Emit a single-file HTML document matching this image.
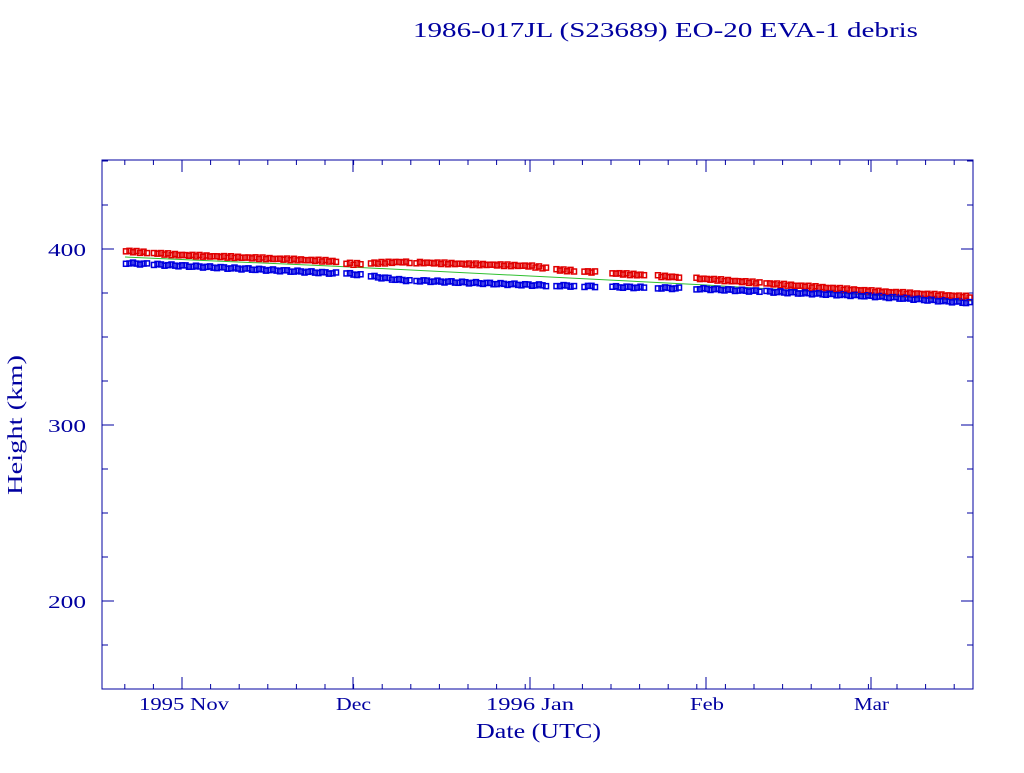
<!DOCTYPE html>
<html><head><meta charset="utf-8"><style>
body{margin:0;background:#fff;}
svg text{font-family:"Liberation Serif",serif;fill:#0000a0;}
</style></head><body>
<svg id="s" width="1024" height="768" xmlns="http://www.w3.org/2000/svg">
<rect width="1024" height="768" fill="#fff"/>
<text x="413" y="37" font-size="21" textLength="505" lengthAdjust="spacingAndGlyphs">1986-017JL (S23689) EO-20 EVA-1 debris</text>
<rect x="102" y="160" width="871" height="529" fill="none" stroke="#0000a0" stroke-width="1"/>
<g id="ticks" stroke="#0000a0" stroke-width="1"></g>
<g font-size="18">
<text x="48" y="256" textLength="38" lengthAdjust="spacingAndGlyphs">400</text>
<text x="48" y="432" textLength="38" lengthAdjust="spacingAndGlyphs">300</text>
<text x="48" y="608" textLength="38" lengthAdjust="spacingAndGlyphs">200</text>
<text x="139" y="710" textLength="90" lengthAdjust="spacingAndGlyphs">1995 Nov</text>
<text x="336" y="710" textLength="35" lengthAdjust="spacingAndGlyphs">Dec</text>
<text x="486" y="710" textLength="88" lengthAdjust="spacingAndGlyphs">1996 Jan</text>
<text x="690" y="710" textLength="34" lengthAdjust="spacingAndGlyphs">Feb</text>
<text x="854" y="710" textLength="35" lengthAdjust="spacingAndGlyphs">Mar</text>
</g>
<text x="476" y="738" font-size="21" textLength="125" lengthAdjust="spacingAndGlyphs">Date (UTC)</text>
<text transform="translate(22,495) rotate(-90)" font-size="21" textLength="140" lengthAdjust="spacingAndGlyphs">Height (km)</text>
<polyline points="125,257 330,266 530,276 706,285 870,295 973,301" fill="none" stroke="#30c030" stroke-width="1"/>
<g id="pts" fill="none" stroke-width="1.5"></g>
</svg>
<script>
var NS="http://www.w3.org/2000/svg",t=document.getElementById("ticks"),p=document.getElementById("pts");
function ln(x1,y1,x2,y2){var l=document.createElementNS(NS,"line");l.setAttribute("x1",x1);l.setAttribute("y1",y1);l.setAttribute("x2",x2);l.setAttribute("y2",y2);t.appendChild(l);}
for(var v=150;v<=450;v+=25){var y=689-(v-150)*1.76;var L=(v%100==0)?12:6;ln(102,y,102+L,y);ln(973,y,973-L,y);}
var majors=[182,353,530,706,871];
for(var x=182-2*28.6;x<973;x+=28.6){ln(x,689,x,684);ln(x,160,x,165);}
majors.forEach(function(d){ln(d,689,d,677);ln(d,160,d,172);});
function interp(a,x){for(var i=0;i<a.length-1;i++){if(x<=a[i+1][0]){var f=(x-a[i][0])/(a[i+1][0]-a[i][0]);return a[i][1]+f*(a[i+1][1]-a[i][1]);}}return a[a.length-1][1];}
var R=[[125,251],[180,255],[330,261],[353,264],[400,262],[530,266],[560,270],[706,279],[870,291],[973,297]];
var B=[[125,263],[330,273],[353,274],[400,280],[530,285],[706,289],[870,296],[973,303]];
var gaps=[[148,152],[336,346],[362,368],[412,416],[549,554],[574,584],[598,610],[646,656],[682,696],[760,764]];
function gap(x){for(var g of gaps)if(x>g[0]&&x<g[1])return true;return false;}
function sq(x,y,c){var r=document.createElementNS(NS,"rect");r.setAttribute("x",x-2.5);r.setAttribute("y",y-2.5);r.setAttribute("width",5);r.setAttribute("height",5);r.setAttribute("stroke",c);p.appendChild(r);}
for(var x=126;x<972;x+=3.5){if(gap(x))continue;sq(x,interp(R,x)+Math.sin(x)*0.8,"#e00000");sq(x,interp(B,x)+Math.cos(x*1.3)*0.8,"#0000e0");}
</script>
</body></html>
